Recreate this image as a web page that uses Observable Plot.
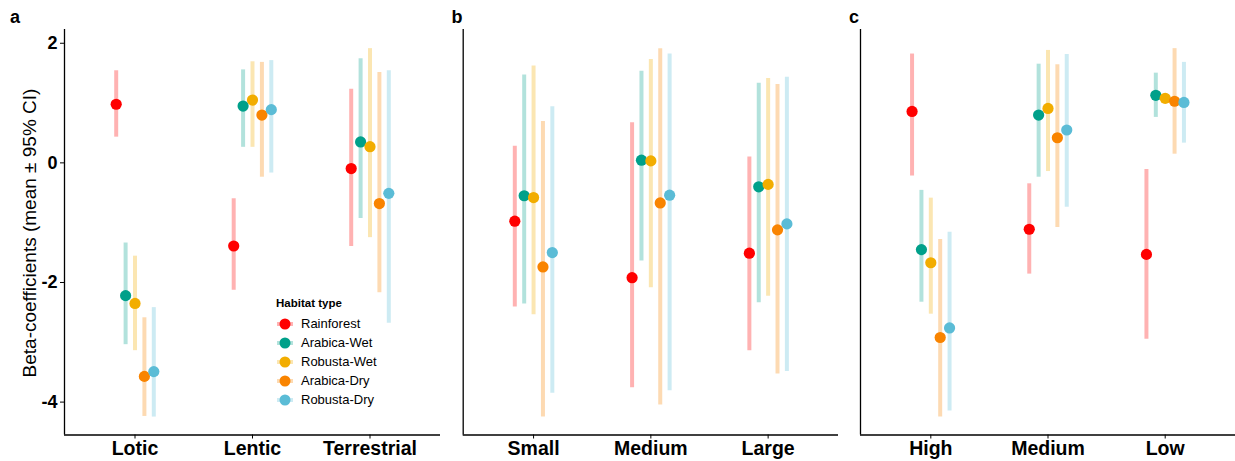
<!DOCTYPE html>
<html>
<head>
<meta charset="utf-8">
<script src="https://cdn.jsdelivr.net/npm/d3@7"></script>
<script src="https://cdn.jsdelivr.net/npm/@observablehq/plot@0.6"></script>
<style>
  html, body { margin: 0; padding: 0; background: #fff; }
  #root { position: relative; width: 1235px; height: 461px; overflow: hidden; font-family: "Liberation Sans", Arial, sans-serif; color: #000; }
  .panel { position: absolute; top: 0; }
  .tag { position: absolute; font-weight: bold; font-size: 18px; line-height: 1; transform: translate(-50%, -50%); }
  .ylab { position: absolute; white-space: nowrap; font-size: 19px; transform: translate(-50%, -50%) rotate(-90deg); line-height: 1; }
  .legend { position: absolute; left: 276px; top: 296px; font-size: 13px; }
  .legend .ttl { font-weight: bold; font-size: 11.5px; margin-bottom: 3px; height: 15px; line-height: 15px; }
  .legend .row { display: flex; align-items: center; height: 19px; }
  .legend svg { margin-right: 7px; }
</style>
</head>
<body>
<div id="root"></div>
<script>
// ---- data ----
const series = ["Rainforest", "Arabica-Wet", "Robusta-Wet", "Arabica-Dry", "Robusta-Dry"];
const colors = ["#FF0000", "#00A08A", "#F2AD00", "#F98400", "#5BBCD6"];

const catsA = ["Lotic", "Lentic", "Terrestrial"];
const meanA = [[0.98, -2.22, -2.35, -3.57, -3.49], [-1.39, 0.95, 1.05, 0.80, 0.89], [-0.095, 0.35, 0.27, -0.68, -0.51]];
const loA   = [[0.43, -3.04, -3.14, -4.24, -4.25], [-2.13, 0.26, 0.26, -0.24, -0.17], [-1.40, -0.93, -1.25, -2.17, -2.68]];
const hiA   = [[1.54, -1.34, -1.56, -2.59, -2.42], [-0.60, 1.555, 1.69, 1.68, 1.71], [1.23, 1.74, 1.91, 1.51, 1.54]];

const catsB = ["Small", "Medium", "Large"];
const meanB = [[-0.975, -0.55, -0.58, -1.74, -1.50], [-1.92, 0.045, 0.033, -0.67, -0.54], [-1.51, -0.40, -0.36, -1.12, -1.02]];
const loB   = [[-2.41, -2.36, -2.54, -4.25, -3.85], [-3.76, -1.64, -2.09, -4.05, -3.81], [-3.14, -2.34, -2.23, -3.53, -3.49]];
const hiB   = [[0.28, 1.47, 1.62, 0.69, 0.94], [0.67, 1.53, 1.73, 1.91, 1.82], [0.10, 1.33, 1.41, 1.31, 1.43]];

const catsC = ["High", "Medium", "Low"];
const meanC = [[0.86, -1.45, -1.67, -2.92, -2.76], [-1.11, 0.80, 0.91, 0.42, 0.55], [-1.53, 1.13, 1.08, 1.03, 1.01]];
const loC   = [[-0.22, -2.33, -2.53, -4.25, -4.15], [-1.86, -0.24, -0.145, -1.08, -0.74], [-2.95, 0.76, 1.00, 0.145, 0.33]];
const hiC   = [[1.82, -0.46, -0.59, -1.28, -1.16], [-0.35, 1.65, 1.88, 1.64, 1.81], [-0.11, 1.50, 1.16, 1.91, 1.68]];

const yTicks = [2, 0, -2, -4];
const yDomain = [-4.55, 2.23];
const dodge = 0.08;

function rows(cats, mean, lo, hi) {
  const out = [];
  cats.forEach((c, i) => series.forEach((s, j) => {
    out.push({cat: c, series: s, x: i + 1 + (j - 2) * dodge, mean: mean[i][j], lo: lo[i][j], hi: hi[i][j]});
  }));
  return out;
}

function panel(cats, data, opts) {
  const marks = [
    Plot.ruleX(data, {x: "x", y1: "lo", y2: "hi", stroke: "series", strokeWidth: 4, strokeOpacity: 0.3}),
    Plot.dot(data, {x: "x", y: "mean", fill: "series", r: 5.6}),
    Plot.ruleX([0.4], {stroke: "#000", strokeWidth: 1.3}),
    Plot.ruleY([yDomain[0]], {stroke: "#000", strokeWidth: 1.3}),
    Plot.axisX({ticks: [1, 2, 3], tickFormat: (d) => cats[d - 1], tickSize: 4, tickPadding: 2, fontSize: 19.5, fontWeight: "bold", label: null})
  ];
  if (opts.yAxis) {
    marks.push(Plot.axisY({ticks: yTicks, tickFormat: (d) => String(d), tickSize: 4, tickPadding: 3, fontSize: 18, fontWeight: "bold", label: null}));
  }
  return Plot.plot({
    width: opts.width,
    height: 461,
    marginLeft: opts.marginLeft,
    marginRight: 0,
    marginTop: 29,
    marginBottom: 26.5,
    style: {color: "#000", background: "transparent", fontFamily: "Liberation Sans, Arial, sans-serif", overflow: "visible"},
    x: {type: "linear", domain: [0.4, 3.6], axis: null},
    y: {domain: yDomain, axis: null},
    color: {domain: series, range: colors},
    marks
  });
}

const root = document.getElementById("root");
const defs = [
  {left: 0, width: 440, marginLeft: 64, yAxis: true, cats: catsA, d: rows(catsA, meanA, loA, hiA)},
  {left: 440, width: 398, marginLeft: 22.7, yAxis: false, cats: catsB, d: rows(catsB, meanB, loB, hiB)},
  {left: 838, width: 397, marginLeft: 22, yAxis: false, cats: catsC, d: rows(catsC, meanC, loC, hiC)}
];
for (const p of defs) {
  const div = document.createElement("div");
  div.className = "panel";
  div.style.left = p.left + "px";
  div.appendChild(panel(p.cats, p.d, p));
  root.appendChild(div);
}

// panel tags
const tags = [["a", 15, 17], ["b", 457, 17], ["c", 854, 17]];
for (const [t, x, y] of tags) {
  const el = document.createElement("div");
  el.className = "tag"; el.textContent = t;
  el.style.left = x + "px"; el.style.top = y + "px";
  root.appendChild(el);
}

// y axis title
const yl = document.createElement("div");
yl.className = "ylab";
yl.textContent = "Beta-coefficients (mean ± 95% CI)";
yl.style.left = "29px"; yl.style.top = "233px";
root.appendChild(yl);

// legend
const lg = document.createElement("div");
lg.className = "legend";
const ttl = document.createElement("div");
ttl.className = "ttl"; ttl.textContent = "Habitat type";
lg.appendChild(ttl);
series.forEach((s, i) => {
  const r = document.createElement("div");
  r.className = "row";
  r.innerHTML = `<svg width="18" height="14"><line x1="1" x2="17" y1="7" y2="7" stroke="${colors[i]}" stroke-opacity="0.3" stroke-width="4"/><circle cx="9" cy="7" r="5.5" fill="${colors[i]}"/></svg><span>${s}</span>`;
  lg.appendChild(r);
});
root.appendChild(lg);
</script>
</body>
</html>
